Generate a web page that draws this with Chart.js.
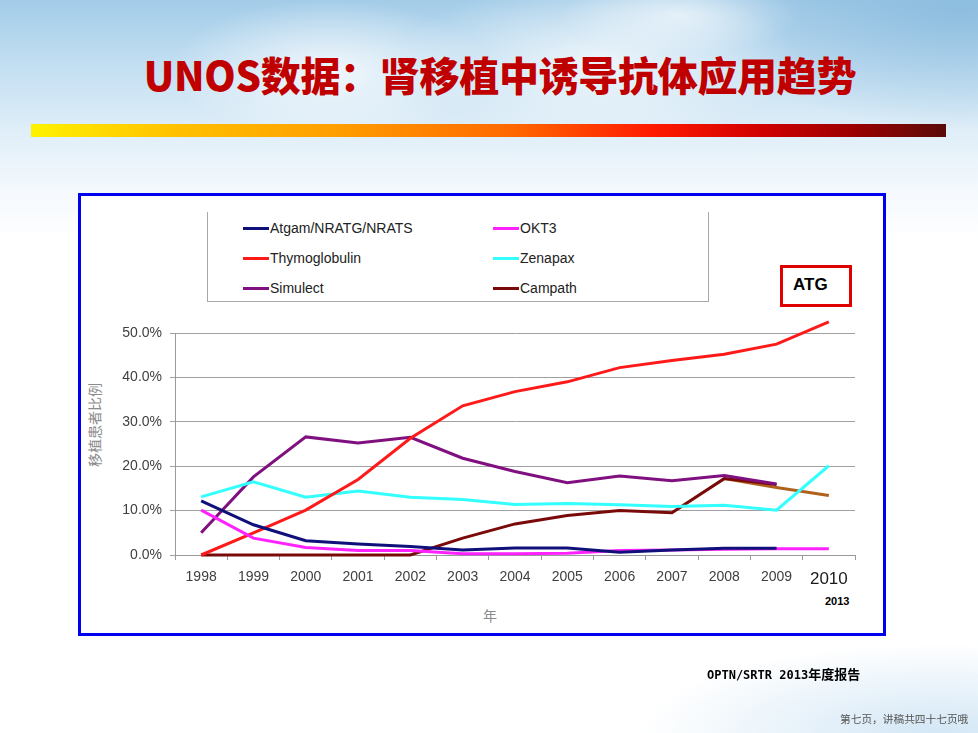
<!DOCTYPE html>
<html>
<head>
<meta charset="utf-8">
<script src="https://cdn.jsdelivr.net/npm/chart.js@4.4.1/dist/chart.umd.min.js"></script>
<style>
  html, body { margin: 0; padding: 0; }
  body {
    width: 978px; height: 733px; overflow: hidden; position: relative;
    font-family: "Liberation Sans", Arial, sans-serif;
    background:
      radial-gradient(ellipse 160px 70px at 330px 70px, rgba(255,255,255,0.75), rgba(255,255,255,0) 100%),
      radial-gradient(ellipse 200px 80px at 600px 60px, rgba(255,255,255,0.7), rgba(255,255,255,0) 100%),
      radial-gradient(ellipse 120px 40px at 680px 15px, rgba(255,255,255,0.6), rgba(255,255,255,0) 100%),
      radial-gradient(ellipse 260px 120px at 960px 10px, rgba(120,175,215,0.55), rgba(120,175,215,0) 100%),
      radial-gradient(ellipse 300px 90px at 940px 733px, rgba(200,225,243,0.8), rgba(200,225,243,0) 100%),
      linear-gradient(to bottom, #a3cce8 0px, #c0ddf1 60px, #dfeef8 130px, #f4f9fd 190px, #ffffff 240px, #ffffff 733px);
  }
  .abs { position: absolute; }
  #title {
    left: 0; width: 1000px; top: 49px; text-align: center;
    font-family: "Noto Sans CJK SC", sans-serif; font-weight: 900; font-size: 40px;
    color: #C00000; line-height: 50px; letter-spacing: -0.3px;
  }
  #bar {
    left: 31px; top: 124px; width: 915px; height: 13px;
    background: linear-gradient(to right, #FFF200 0%, #FFC000 16%, #FF9F00 33%, #FF6a00 52%, #FF1a00 68%, #D00000 80%, #9a0000 90%, #5a0a0a 100%);
  }
  #frame {
    left: 78px; top: 193px; width: 802px; height: 437px;
    border: 3px solid #0000F0; background: #ffffff;
  }
  #legendBox {
    left: 207px; top: 212px; width: 500px; height: 89px;
    border-left: 1.5px solid #A8A8A8; border-right: 1.5px solid #A8A8A8; border-bottom: 1.5px solid #A8A8A8;
  }
  .lgItem { position: absolute; height: 20px; font-size: 14px; color: #222; line-height: 20px; white-space: nowrap; }
  .lgLine { position: absolute; left: 0; top: 8.5px; width: 26px; height: 3px; }
  .lgText { position: absolute; left: 27px; top: 0; }
  #atg {
    left: 780px; top: 265px; width: 66px; height: 36px;
    border: 3px solid #E00000; background: #fff;
    font-weight: bold; font-size: 17px; color: #000; line-height: 36px;
  }
  #atg span { position: absolute; left: 10px; top: -1px; }
  #ylab {
    left: 94px; top: 425px; transform: translate(-50%, -50%) rotate(-90deg);
    font-family: "Noto Sans CJK SC", sans-serif; font-size: 14px; color: #8a8a8a; white-space: nowrap;
  }
  #xlab {
    left: 483px; top: 605px; font-family: "Noto Sans CJK SC", sans-serif; font-size: 14px; color: #8a8a8a;
  }
  #y2013 { left: 825px; top: 595px; font-weight: bold; font-size: 11px; color: #000; }
  #source {
    left: 707px; top: 664px; font-family: "DejaVu Sans Mono", "Noto Sans CJK SC", monospace;
    font-weight: bold; font-size: 12px; color: #000; white-space: nowrap;
  }
  #source .cjk { font-family: "Noto Sans CJK SC", sans-serif; font-size: 13px; }
  #footer {
    left: 840px; top: 711px; font-family: "Noto Sans CJK SC", sans-serif; font-size: 10.7px; color: #555; white-space: nowrap;
  }
  #cv { position: absolute; left: 0; top: 0; }
</style>
</head>
<body>
<div id="title" class="abs">UNOS数据：肾移植中诱导抗体应用趋势</div>
<div id="bar" class="abs"></div>
<div id="frame" class="abs"></div>
<div id="legendBox" class="abs"></div>
<div id="legend" class="abs" style="left:0;top:0;"></div>
<div id="ylab" class="abs">移植患者比例</div>
<div id="xlab" class="abs">年</div>
<div id="y2013" class="abs">2013</div>
<canvas id="cv" width="978" height="733"></canvas>
<div id="atg" class="abs"><span>ATG</span></div>
<div id="source" class="abs">OPTN/SRTR 2013<span class="cjk">年度报告</span></div>
<div id="footer" class="abs">第七页，讲稿共四十七页哦</div>

<script>
// ---- Data (percent of transplant recipients) ----
const years = ['1998','1999','2000','2001','2002','2003','2004','2005','2006','2007','2008','2009','2010'];
const atgam     = [12.2, 6.8, 3.2, 2.5, 1.9, 1.1, 1.6, 1.6, 0.6, 1.1, 1.5, 1.5, null];
const okt3      = [10.1, 3.8, 1.7, 1.0, 1.0, 0.3, 0.3, 0.4, 1.0, 1.1, 1.3, 1.4, 1.4];
const thymo     = [0.0, 5.0, 10.1, 17.0, 26.3, 33.6, 36.8, 39.0, 42.2, 43.8, 45.2, 47.5, 52.5];
const zenapax   = [13.1, 16.5, 13.0, 14.4, 13.0, 12.5, 11.4, 11.6, 11.3, 10.9, 11.2, 10.1, 20.1];
const simulect  = [5.0, 17.6, 26.6, 25.2, 26.5, 21.8, 18.8, 16.3, 17.8, 16.7, 17.9, 16.0, null];
const campath   = [0.0, 0.0, 0.0, 0.0, 0.0, 3.8, 7.0, 8.9, 10.0, 9.5, 17.2, 15.9, null];
const campath2013 = [null, null, null, null, null, null, null, null, null, null, 17.2, 15.2, 13.4];
const yTicks = [0, 10, 20, 30, 40, 50];

const seriesNames = ['Atgam/NRATG/NRATS', 'OKT3', 'Thymoglobulin', 'Zenapax', 'Simulect', 'Campath'];
const seriesData = [atgam, okt3, thymo, zenapax, simulect, campath];
const seriesColors = ['#10107A', '#FF22FF', '#FF1A1A', '#33FFFF', '#80107F', '#7A0A0A'];

const datasets = seriesNames.map((n, i) => ({
  label: n, data: seriesData[i], borderColor: seriesColors[i], backgroundColor: seriesColors[i],
  borderWidth: 3, pointRadius: 0, tension: 0, fill: false, spanGaps: false, clip: false
}));
datasets.push({
  label: 'Campath 2013', data: campath2013, borderColor: '#B0621C', backgroundColor: '#B0621C',
  borderWidth: 3, pointRadius: 0, tension: 0, fill: false, spanGaps: false, clip: false, order: 5
});

// ---- HTML legend (2 columns x 3 rows) ----
const lg = document.getElementById('legend');
seriesNames.forEach((n, i) => {
  const col = i % 2, row = Math.floor(i / 2);
  const it = document.createElement('div');
  it.className = 'lgItem';
  it.style.left = (col === 0 ? 243 : 493) + 'px';
  it.style.top = (218 + row * 30) + 'px';
  it.innerHTML = '<div class="lgLine" style="background:' + seriesColors[i] + '"></div><div class="lgText">' + n + '</div>';
  lg.appendChild(it);
});

new Chart(document.getElementById('cv'), {
  type: 'line',
  data: { labels: years, datasets: datasets },
  options: {
    responsive: false,
    animation: false,
    layout: { padding: { left: 0, right: 123, top: 333, bottom: 0 } },
    plugins: { legend: { display: false }, tooltip: { enabled: false } },
    scales: {
      x: {
        type: 'category',
        offset: true,
        afterFit: s => { s.height = 178; },
        grid: { display: true, drawOnChartArea: false, drawTicks: true, tickLength: 5, color: '#9A9A9A', offset: true },
        border: { display: true, color: '#9A9A9A', width: 1 },
        ticks: {
          padding: 9,
          maxRotation: 0,
          autoSkip: false,
          color: ctx => ctx.index === 12 ? '#1a1a1a' : '#404040',
          font: ctx => ctx.index === 12 ? { family: 'Liberation Sans', size: 17 } : { family: 'Liberation Sans', size: 14 }
        }
      },
      y: {
        min: 0, max: 50,
        afterFit: s => { s.width = 175; },
        afterBuildTicks: s => { s.ticks = yTicks.map(v => ({ value: v })); },
        grid: { color: '#A0A0A0', lineWidth: 1, tickLength: 5, drawTicks: true },
        border: { display: true, color: '#9A9A9A', width: 1 },
        ticks: {
          padding: 8,
          color: '#404040',
          font: { family: 'Liberation Sans', size: 14 },
          callback: v => v.toFixed(1) + '%'
        }
      }
    }
  }
});
</script>
</body>
</html>
